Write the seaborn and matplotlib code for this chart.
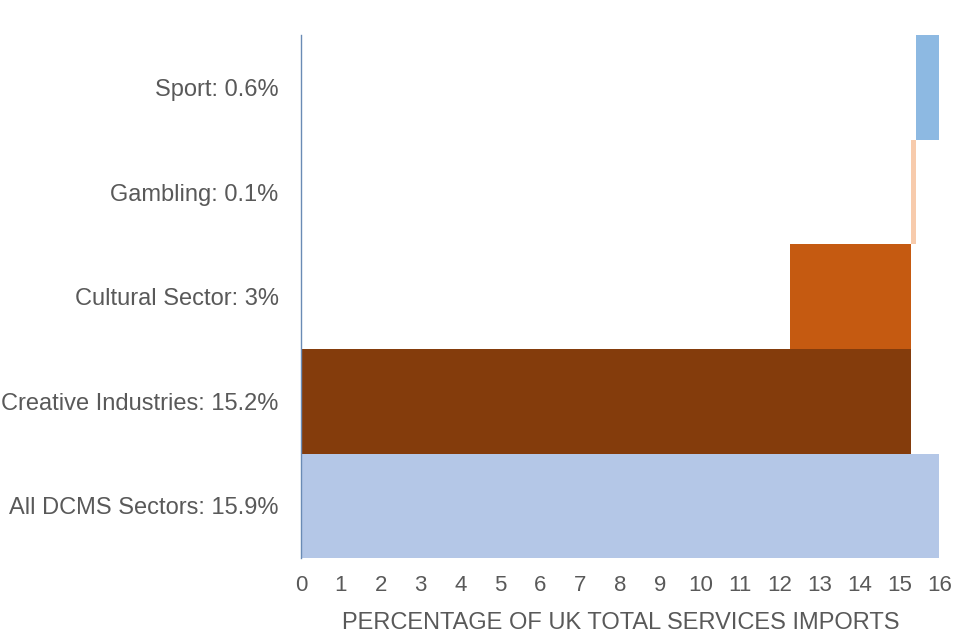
import matplotlib
matplotlib.use("Agg")
import matplotlib.pyplot as plt
import pandas as pd
import seaborn as sns

# Data (waterfall-style breakdown)
labels = ["Sport: 0.6%", "Gambling: 0.1%", "Cultural Sector: 3%",
          "Creative Industries: 15.2%", "All DCMS Sectors: 15.9%"]
starts = [15.4, 15.27, 12.25, 0.0, 0.0]
ends = [15.98, 15.4, 15.27, 15.27, 15.98]
colors = ["#8DB9E2", "#F7CBAC", "#C55A11", "#843C0C", "#B4C7E7"]

df = pd.DataFrame({"label": labels, "start": starts, "end": ends})
df["width"] = df["end"] - df["start"]

sns.set_style("white")
plt.rcParams["font.family"] = ["Liberation Sans", "DejaVu Sans"]

fig, ax = plt.subplots(figsize=(9.6, 6.4), dpi=100)
fig.subplots_adjust(left=0.3135, right=0.979, top=0.945, bottom=0.128)

sns.barplot(data=df, x="width", y="label", hue="label", palette=colors,
            orient="h", width=1.0, dodge=False, legend=False, ax=ax,
            saturation=1)

# shift the floating bars so they start where the previous part ends
for patch, s in zip(ax.patches, df["start"]):
    patch.set_x(s)
    patch.set_edgecolor("none")

ax.set_xlim(0, 16)
ax.set_xticks(range(0, 17))
ax.set_ylim(4.5, -0.5)
ax.set_ylabel("")
ax.set_xlabel("PERCENTAGE OF UK TOTAL SERVICES IMPORTS", fontsize=17,
              color="#595959", labelpad=12)
ax.tick_params(axis="both", length=0, labelcolor="#595959")
ax.tick_params(axis="y", pad=16, labelsize=17)
ax.tick_params(axis="x", pad=12, labelsize=16)

for side in ["top", "right", "bottom"]:
    ax.spines[side].set_visible(False)
ax.spines["left"].set_color("#6A8BB5")
ax.spines["left"].set_linewidth(1)

fig.savefig("out.png", dpi=100)
